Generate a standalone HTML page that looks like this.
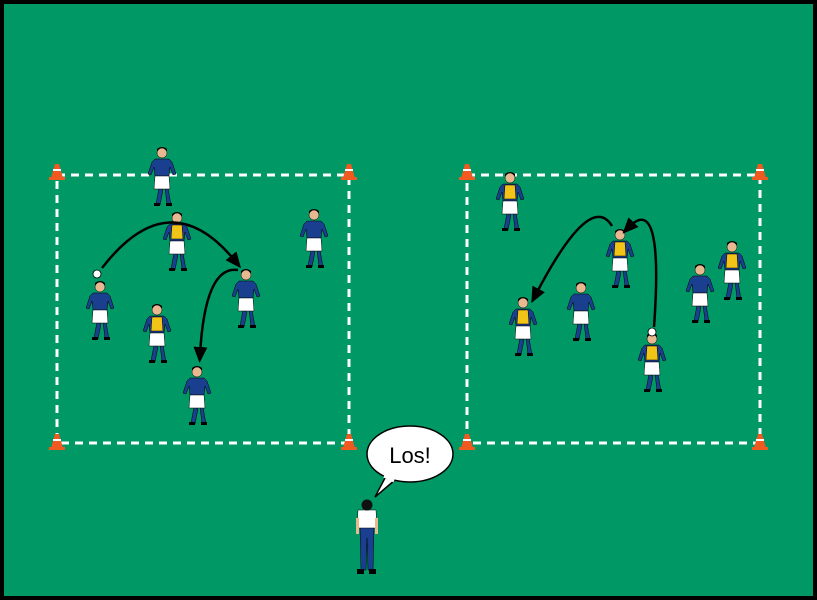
<!DOCTYPE html>
<html><head><style>
html,body{margin:0;padding:0;background:#000}
svg{display:block}
</style></head><body>
<svg width="817" height="600" viewBox="0 0 817 600" xmlns="http://www.w3.org/2000/svg">
<defs>
<marker id="ah" markerWidth="16" markerHeight="14" refX="8" refY="7" orient="auto" markerUnits="userSpaceOnUse">
<path d="M0,0 L16,7 L0,14 Z" fill="#000"/>
</marker>
<g id="pb">
<path d="M-3,40 L-6,56 L-2,57 L1,42 Z M3,40 L5,56 L9,57 L6,40 Z" fill="#1b3f8f" stroke="#000" stroke-width="0.5"/>
<rect x="-8" y="55" width="6" height="3" fill="#000"/><rect x="4" y="55" width="6" height="3" fill="#000"/>
<path d="M-7,11 L7,11 L10,14 L14,26 L11,27 L8,19 L7,28 L-7,28 L-8,19 L-11,27 L-14,26 L-10,14 Z" fill="#1b3f8f" stroke="#000" stroke-width="0.5"/>
<path d="M-7,28 L7,28 L8,41 L0,41 L-8,41 Z" fill="#fff" stroke="#000" stroke-width="0.5"/>
<circle cx="0" cy="5" r="5" fill="#e8b890" stroke="#000" stroke-width="0.5"/>
<path d="M-5,4 Q0,-4 5,4 L5,1 Q0,-3 -5,1 Z" fill="#000"/>
</g>
<g id="py">
<use href="#pb"/>
<path d="M-5,12 L5,12 L6,26 L-6,26 Z" fill="#f2c418" stroke="#000" stroke-width="0.5"/>
</g>
<g id="cone">
<path d="M-6,8 L6,8 L2,-6 L-2,-6 Z" fill="#f05a20"/>
<rect x="-4" y="-1" width="8" height="2" fill="#fff"/>
<rect x="-8" y="7" width="16" height="3" fill="#f05a20"/>
</g>
</defs>
<rect x="4" y="4" width="809" height="592" fill="#009966"/>
<g fill="none" stroke="#fff" stroke-width="3" stroke-dasharray="8,6">
<rect x="57" y="175" width="292" height="268"/>
<rect x="467" y="175" width="293" height="268"/>
</g>
<use href="#cone" x="57" y="170"/><use href="#cone" x="349" y="170"/>
<use href="#cone" x="57" y="440"/><use href="#cone" x="349" y="440"/>
<use href="#cone" x="467" y="170"/><use href="#cone" x="760" y="170"/>
<use href="#cone" x="467" y="440"/><use href="#cone" x="760" y="440"/>

<use href="#pb" x="162" y="148"/>
<use href="#py" x="177" y="213"/>
<use href="#pb" x="314" y="210"/>
<use href="#pb" x="100" y="282"/>
<circle cx="97" cy="274" r="4" fill="#fff" stroke="#000" stroke-width="0.8"/>
<use href="#pb" x="246" y="270"/>
<use href="#py" x="157" y="305"/>
<use href="#pb" x="197" y="367"/>

<use href="#py" x="510" y="173"/>
<use href="#py" x="620" y="230"/>
<use href="#pb" x="581" y="283"/>
<use href="#py" x="523" y="298"/>
<use href="#pb" x="700" y="265"/>
<use href="#py" x="732" y="242"/>
<use href="#py" x="652" y="334"/>
<circle cx="652" cy="332" r="4" fill="#fff" stroke="#000" stroke-width="0.8"/>

<g fill="none" stroke="#000" stroke-width="2.5" marker-end="url(#ah)">
<path d="M102,268 Q170,180 236,262"/>
<path d="M238,270 Q205,265 200,355"/>
<path d="M612,226 Q590,190 535,296"/>
<path d="M654,327 Q664,190 628,228"/>
</g>

<path d="M385,478 L375,497 L395,480 Z" fill="#fff" stroke="#000" stroke-width="1.5"/>
<ellipse cx="410" cy="454" rx="43" ry="28" fill="#fff" stroke="#000" stroke-width="1.5"/>
<path d="M384,476 L394,481" stroke="#fff" stroke-width="3"/>
<text x="410" y="463" text-anchor="middle" font-family="Liberation Sans, sans-serif" font-size="22">Los!</text>

<g>
<path d="M-7,27 L7,27 L6,70 L1,70 L0,38 L-1,70 L-6,70 Z" transform="translate(367,500)" fill="#1b3f8f" stroke="#000" stroke-width="0.5"/>
<path d="M-9,10 L9,10 L10,28 L-10,28 Z" transform="translate(367,500)" fill="#fff" stroke="#000" stroke-width="0.5"/>
<rect x="356" y="518" width="3" height="16" fill="#e8b890"/><rect x="375" y="518" width="3" height="16" fill="#e8b890"/>
<circle cx="367" cy="505" r="5.5" fill="#111"/>
<rect x="357" y="569" width="7" height="5" fill="#000"/><rect x="369" y="569" width="7" height="5" fill="#000"/>
</g>
</svg>
</body></html>
